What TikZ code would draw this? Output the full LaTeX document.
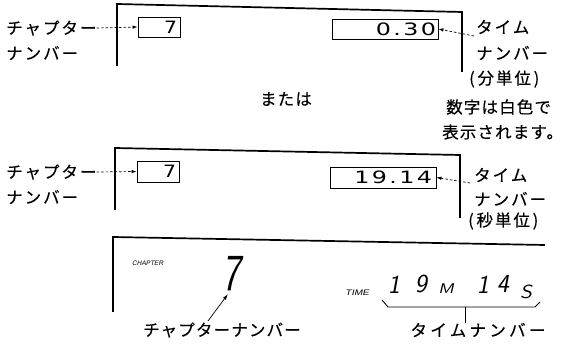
\documentclass[tikz,border=0pt]{standalone}
\usepackage{fontspec}
\usetikzlibrary{arrows.meta,calc}
\newfontfamily\jp[LetterSpace=12,FakeBold=0.3]{Noto Sans CJK JP}
\newfontfamily\jpn[LetterSpace=7,FakeBold=0.3]{Noto Sans CJK JP}
\newfontfamily\jpw[LetterSpace=20,FakeBold=0.3]{Noto Sans CJK JP}
\newfontfamily\lcd[LetterSpace=10]{DejaVu Sans}
\newfontfamily\seg[FakeSlant=0.18]{Latin Modern Sans}
\newfontfamily\smallsans[FakeSlant=0.2]{Liberation Sans}
\tikzset{
  frame/.style={line width=1.7pt},
  dispbox/.style={draw, line width=0.9pt, inner sep=0pt, align=right},
  boxtxt/.style={font=\lcd\fontsize{17}{17}\selectfont},
  lbl/.style={font=\jp\fontsize{16.5}{18}\selectfont, inner sep=0pt, anchor=west},
  note/.style={font=\jpn\fontsize{16.5}{18}\selectfont, inner sep=0pt, anchor=west},
  ptr/.style={dashed, dash pattern=on 2.5pt off 2pt, line width=0.7pt, -{Latex[length=5pt,width=3.5pt]}},
  ptrs/.style={line width=0.7pt, -{Latex[length=6pt,width=3.5pt]}},
  digit/.style={font=\seg\fontsize{26}{26}\selectfont, inner sep=0pt},
}
\begin{document}
\begin{tikzpicture}[x=1pt,y=-1pt]
\useasboundingbox (0,0) rectangle (574,352);
% ---------- panel 1 ----------
\draw[frame] (117,66) -- (117,4) -- (462,12) -- (462,72);
\node[dispbox, boxtxt, minimum width=42pt, minimum height=20pt, text width=36pt] (c1) at (159,27) {\scalebox{1.2}[1]{7}};
\node[dispbox, boxtxt, minimum width=106pt, minimum height=20pt, text width=102pt] (t1) at (385,29) {\scalebox{1.4}[1]{0.30}};
\node[lbl] (ch1a) at (6,28) {チャプター};
\node[lbl] (ch1b) at (6,53) {ナンバー};
\draw[ptr] (ch1a.east) -- (c1.west);
\node[lbl] (ti1a) at (476,27) {タイム};
\node[lbl] (ti1b) at (476,53) {ナンバー};
\node[lbl] (ti1c) at (469,79) {(\,分単位\,)};
\coordinate (t1tail) at (474,36);
\draw[ptr] (t1tail) -- (t1.east);
\node[note, anchor=center] (or) at (286,99) {または};
\node[note] (n1) at (446,107) {数字は白色で};
\node[note] (n2) at (442,132) {表示されます。};
% ---------- panel 2 ----------
\draw[frame] (115,210) -- (115,148) -- (460,155) -- (460,218);
\node[dispbox, boxtxt, minimum width=42pt, minimum height=21pt, text width=36pt] (c2) at (158,171.5) {\scalebox{1.2}[1]{7}};
\node[dispbox, boxtxt, minimum width=106pt, minimum height=21pt, text width=98pt] (t2) at (383,177.5) {\scalebox{1.4}[1]{19.14}};
\node[lbl] (ch2a) at (6,172) {チャプター};
\node[lbl] (ch2b) at (6,197) {ナンバー};
\draw[ptr] (ch2a.east) -- (c2.west);
\node[lbl] (ti2a) at (474,175) {タイム};
\node[lbl] (ti2b) at (474,199) {ナンバー};
\node[lbl] (ti2c) at (468,221) {(\,秒単位\,)};
\coordinate (t2tail) at (470,183);
\draw[ptr] (t2tail) -- (t2.east);
% ---------- panel 3 ----------
\draw[frame] (113,312) -- (113,237) -- (545,245);
\node[font=\smallsans\fontsize{6.5}{6.5}\selectfont, inner sep=0pt, anchor=west] (chap) at (132,263) {CHAPTER};
\node[font=\seg\fontsize{52}{52}\selectfont, inner sep=0pt] (seven) at (232,274) {\scalebox{0.75}[1]{7}};
\node[font=\smallsans\fontsize{8}{8}\selectfont, inner sep=0pt, anchor=west] (time) at (345,293) {\scalebox{1.25}[1]{TIME}};
\node[digit] (d1) at (394,285) {1};
\node[digit] (d2) at (421,284) {9};
\node[font=\seg\fontsize{14}{14}\selectfont, inner sep=0pt] (dm) at (446,289) {\scalebox{1.3}[1]{M}};
\node[digit] (d3) at (483,285) {1};
\node[digit] (d4) at (503,284) {4};
\node[font=\seg\fontsize{19}{19}\selectfont, inner sep=0pt] (ds) at (526,292) {\scalebox{1.2}[1]{S}};
\coordinate (bl) at (382,300);
\coordinate (br) at (540,302);
\coordinate (brk) at (465,307);
\draw[line width=0.9pt] (bl) -- (388,307) -- (535,307) -- (br);
\node[font=\jpw\fontsize{16.5}{18}\selectfont, inner sep=0pt] (tn) at (478,330) {タイムナンバー};
\draw[line width=0.9pt] (brk) -- (brk |- tn.north);
\node[font=\jpn\fontsize{16.5}{18}\selectfont, inner sep=0pt, anchor=west] (cn) at (143,330) {チャプターナンバー};
\coordinate (a7tail) at (208,321);
\coordinate (s7) at (228,294);
\draw[ptrs] (a7tail) -- (s7);
\end{tikzpicture}
\end{document}
